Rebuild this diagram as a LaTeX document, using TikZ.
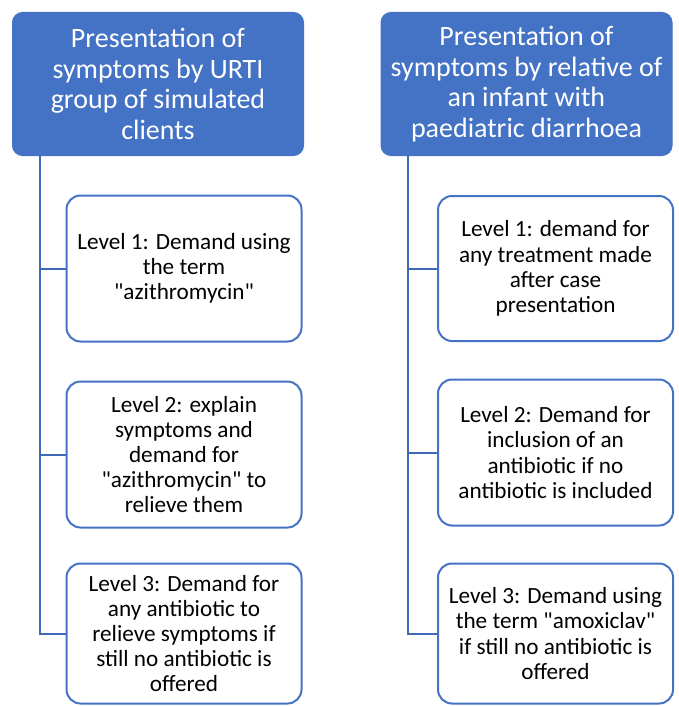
\documentclass[tikz,border=0pt]{standalone}
\usepackage{fontspec}
\setmainfont{Carlito}[Ligatures=TeXOff]
\definecolor{mainblue}{HTML}{4472C4}
\definecolor{linkblue}{HTML}{3F68B5}
\begin{document}
\begin{tikzpicture}[x=1pt,y=-1pt,
  header/.style={draw=mainblue,fill=mainblue,rounded corners=10pt,line width=1pt,
    minimum width=291pt,minimum height=143pt,text=white,align=center,
    inner sep=0pt,font=\fontsize{28}{30.6}\selectfont},
  level/.style={draw=mainblue,fill=white,rounded corners=14pt,line width=2pt,
    minimum width=235pt,align=center,inner sep=0pt,
    font=\fontsize{23.2}{25.2}\selectfont},
  link/.style={draw=linkblue,line width=2pt}]
\useasboundingbox (0,0) rectangle (679,706);
\node[header] (hL) at (158,84) {Presentation of\\symptoms by URTI\\group of simulated\\clients};
\node[header] (hR) at (526.5,84) {Presentation of\\symptoms by relative of\\an infant with\\paediatric diarrhoea};
\node[level,minimum height=146pt] (L1) at (184,268.5) {Level 1: Demand using\\the term\\"azithromycin"};
\node[level,minimum height=146pt] (L2) at (184,454.5) {Level 2: explain\\symptoms and\\demand for\\"azithromycin" to\\relieve them};
\node[level,minimum height=140pt] (L3) at (184,633.5) {Level 3: Demand for\\any antibiotic to\\relieve symptoms if\\still no antibiotic is\\offered};
\node[level,minimum height=145pt] (R1) at (555.5,268.5) {Level 1: demand for\\any treatment made\\after case\\presentation};
\node[level,minimum height=146pt] (R2) at (555.5,452.5) {Level 2: Demand for\\inclusion of an\\antibiotic if no\\antibiotic is included};
\node[level,minimum height=140pt] (R3) at (555.5,633.5) {Level 3: Demand using\\the term "amoxiclav"\\if still no antibiotic is\\offered};
\coordinate (tL) at (40,155.5);
\coordinate (tR) at (408,155.5);
\draw[link] (tL) |- (L3.west);
\draw[link] (tL |- L1.west) -- (L1.west);
\draw[link] (tL |- L2.west) -- (L2.west);
\draw[link] (tR) |- (R3.west);
\draw[link] (tR |- R1.west) -- (R1.west);
\draw[link] (tR |- R2.west) -- (R2.west);
\end{tikzpicture}
\end{document}
